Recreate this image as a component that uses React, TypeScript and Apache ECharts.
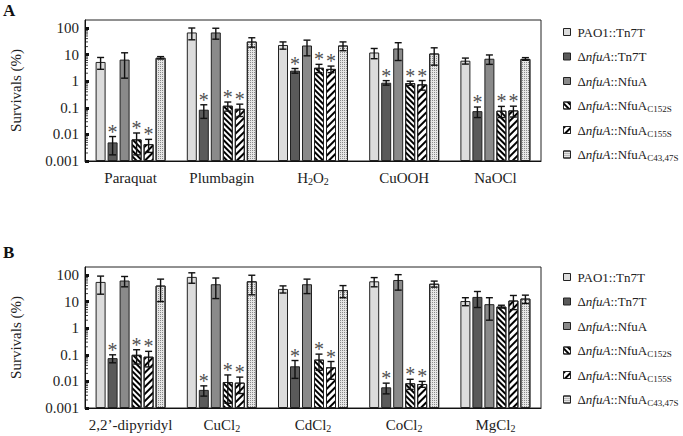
import React, { useEffect, useRef } from "react";
import * as echarts from "echarts";

// ---- Data ----
const SERIES_NAMES = [
  "PAO1::Tn7T",
  "ΔnfuA::Tn7T",
  "ΔnfuA::NfuA",
  "ΔnfuA::NfuA C152S",
  "ΔnfuA::NfuA C155S",
  "ΔnfuA::NfuA C43,47S",
];
const LEGEND_RICH_LABELS = [
  "PAO1::Tn7T",
  "Δ{i|nfuA}::Tn7T",
  "Δ{i|nfuA}::NfuA",
  "Δ{i|nfuA}::NfuA{s|C152S}",
  "Δ{i|nfuA}::NfuA{s|C155S}",
  "Δ{i|nfuA}::NfuA{s|C43,47S}",
];

const CATS_A = ["Paraquat", "Plumbagin", "H2O2", "CuOOH", "NaOCl"];
const CATS_A_RICH = ["Paraquat", "Plumbagin", "H{s|2}O{s|2}", "CuOOH", "NaOCl"];
const CATS_B = ["2,2'-dipyridyl", "CuCl2", "CdCl2", "CoCl2", "MgCl2"];
const CATS_B_RICH = ["2,2’-dipyridyl", "CuCl{s|2}", "CdCl{s|2}", "CoCl{s|2}", "MgCl{s|2}"];

// Panel A values (survival %) and error (SD)
const A_PAO1 = [5.3, 68, 23, 12, 5.9];
const A_PAO1_ERR = [2.5, 32, 7, 5, 1.5];
const A_TN7T = [0.005, 0.085, 2.5, 0.88, 0.075];
const A_TN7T_ERR = [0.0033, 0.045, 0.5, 0.17, 0.032];
const A_NFUA = [6.5, 68, 22, 17, 7];
const A_NFUA_ERR = [5.2, 30, 13, 11, 2.7];
const A_C152S = [0.0065, 0.12, 3.2, 0.85, 0.078];
const A_C152S_ERR = [0.0048, 0.045, 1.1, 0.15, 0.035];
const A_C155S = [0.0043, 0.092, 2.9, 0.76, 0.08];
const A_C155S_ERR = [0.0022, 0.045, 0.8, 0.3, 0.035];
const A_C4347S = [7.6, 31, 22, 11, 6.9];
const A_C4347S_ERR = [0.8, 12, 8, 7, 0.8];

// Panel B values (survival %) and error (SD)
const B_PAO1 = [55, 85, 30, 58, 10.5];
const B_PAO1_ERR = [36, 36, 9, 22, 3.5];
const B_TN7T = [0.075, 0.0048, 0.037, 0.006, 15];
const B_TN7T_ERR = [0.025, 0.002, 0.024, 0.0026, 9];
const B_NFUA = [62, 45, 45, 65, 8];
const B_NFUA_ERR = [26, 32, 25, 38, 6];
const B_C152S = [0.1, 0.0095, 0.066, 0.0085, 6.5];
const B_C152S_ERR = [0.055, 0.008, 0.04, 0.0035, 0.8];
const B_C155S = [0.085, 0.009, 0.034, 0.008, 11];
const B_C155S_ERR = [0.05, 0.0055, 0.022, 0.002, 6];
const B_C4347S = [40, 58, 27, 47, 13];
const B_C4347S_ERR = [30, 40, 13, 12, 4.5];

// Significance marks: which strains and which categories carry "*"
const STAR_SERIES = [false, true, false, true, true, false];
const STAR_CATS_A = [true, true, true, true, true];
const STAR_CATS_B = [true, true, true, true, false];

// Y-axis (log) range and minor tick positions
const Y_MIN = 0.001;
const Y_MAX = 200;
const MINOR_MANTISSAS = [2, 3, 4, 5, 6, 7, 8, 9];
const MINOR_DECADES = [0.001, 0.01, 0.1, 1, 10];

// ---- Styling ----
const FONT = "'Liberation Serif', 'Times New Roman', serif";
const BAR_W = 10;
const BAR_SPACING = 12;

const ITEM_STYLES: any[] = [
  { color: "#dcdcdc" },
  { color: "#5a5a5a" },
  { color: "#8a8a8a" },
  {
    color: "#ffffff",
    decal: {
      symbol: "rect",
      symbolSize: 1,
      color: "#000",
      dashArrayX: [1, 0],
      dashArrayY: [2, 2],
      rotation: Math.PI / 4,
    },
  },
  {
    color: "#ffffff",
    decal: {
      symbol: "rect",
      symbolSize: 1,
      color: "#000",
      dashArrayX: [1, 0],
      dashArrayY: [1.6, 2.2],
      rotation: -Math.PI / 4,
    },
  },
  {
    color: "#e6e6e6",
    decal: {
      symbol: "rect",
      symbolSize: 1,
      color: "#8a8a8a",
      dashArrayX: [1, 1],
      dashArrayY: [1, 1],
      rotation: 0,
    },
  },
];

function App() {
  const ref = useRef<HTMLDivElement>(null);

  useEffect(() => {
    if (!ref.current) return;
    document.body.style.margin = "0";
    const chart = echarts.init(ref.current, undefined, { renderer: "svg" });

    const valsA = [A_PAO1, A_TN7T, A_NFUA, A_C152S, A_C155S, A_C4347S];
    const errsA = [A_PAO1_ERR, A_TN7T_ERR, A_NFUA_ERR, A_C152S_ERR, A_C155S_ERR, A_C4347S_ERR];
    const valsB = [B_PAO1, B_TN7T, B_NFUA, B_C152S, B_C155S, B_C4347S];
    const errsB = [B_PAO1_ERR, B_TN7T_ERR, B_NFUA_ERR, B_C152S_ERR, B_C155S_ERR, B_C4347S_ERR];

    const subRich = {
      s: { fontSize: 10, fontFamily: FONT, color: "#222", lineHeight: 6, verticalAlign: "bottom" },
    };

    const makeXAxis = (gridIndex: number, cats: string[], rich: string[]) => ({
      type: "category",
      gridIndex,
      data: cats,
      axisTick: { show: false },
      axisLine: { lineStyle: { color: "#111", width: 1 } },
      axisLabel: {
        interval: 0,
        fontFamily: FONT,
        fontSize: 15,
        lineHeight: 16,
        color: "#222",
        margin: 9,
        formatter: (_v: string, idx: number) => rich[idx],
        rich: subRich,
      },
    });

    const fmtY = (v: number) => String(parseFloat(v.toPrecision(1)));

    const makeYAxis = (gridIndex: number) => ({
      type: "log",
      logBase: 10,
      gridIndex,
      min: Y_MIN,
      max: Y_MAX,
      startValue: Y_MIN,
      name: "Survivals (%)",
      nameLocation: "middle",
      nameGap: 62,
      nameTextStyle: { fontFamily: FONT, fontSize: 15, color: "#222" },
      axisLine: { show: true, lineStyle: { color: "#111", width: 1 } },
      axisTick: { show: true, inside: true, length: 4, lineStyle: { color: "#111", width: 3 } },
      splitLine: { show: false },
      axisLabel: {
        fontFamily: FONT,
        fontSize: 15,
        color: "#222",
        margin: 6,
        showMaxLabel: false,
        formatter: (v: number) => fmtY(v),
      },
    });

    const barSeries = (gi: number, vals: number[][]) =>
      SERIES_NAMES.map((name, i) => ({
        type: "bar",
        name,
        xAxisIndex: gi,
        yAxisIndex: gi,
        data: vals[i],
        barWidth: BAR_W,
        barGap: "20%",
        itemStyle: { ...ITEM_STYLES[i], borderColor: "#222", borderWidth: 1 },
        emphasis: { disabled: true },
      }));

    const errData = (vals: number[][], errs: number[][], starCats: boolean[]) => {
      const out: number[][] = [];
      vals.forEach((arr, s) =>
        arr.forEach((v, c) => {
          out.push([c, v, s, errs[s][c], STAR_SERIES[s] && starCats[c] ? 1 : 0]);
        })
      );
      return out;
    };

    const errSeries = (gi: number, data: number[][]) => ({
      type: "custom",
      xAxisIndex: gi,
      yAxisIndex: gi,
      data,
      encode: { x: 0, y: 1 },
      z: 5,
      silent: true,
      itemStyle: { color: "#555" },
      renderItem: (_params: any, api: any) => {
        const c = api.value(0);
        const v = api.value(1);
        const s = api.value(2);
        const e = api.value(3);
        const star = api.value(4);
        const hi = v + e;
        const lo = Math.max(v - e, Y_MIN * 1.02);
        const center = api.coord([c, v]);
        const x = center[0] + (s - 2.5) * BAR_SPACING;
        const yHi = api.coord([c, hi])[1];
        const yLo = api.coord([c, lo])[1];
        const ls = { stroke: "#111", lineWidth: 1.4 };
        const children: any[] = [
          { type: "line", shape: { x1: x, y1: yHi, x2: x, y2: yLo }, style: ls },
          { type: "line", shape: { x1: x - 3.5, y1: yHi, x2: x + 3.5, y2: yHi }, style: ls },
          { type: "line", shape: { x1: x - 3.5, y1: yLo, x2: x + 3.5, y2: yLo }, style: ls },
        ];
        if (star) {
          children.push({
            type: "text",
            style: {
              text: "*",
              x,
              y: yHi - 5,
              align: "center",
              verticalAlign: "middle",
              fontSize: 20,
              fontFamily: FONT,
              fill: "#505050",
            },
          });
        }
        return { type: "group", children };
      },
    });

    const minorData: number[][] = [];
    MINOR_DECADES.forEach((d) => MINOR_MANTISSAS.forEach((m) => minorData.push([0, m * d])));

    const minorSeries = (gi: number) => ({
      type: "custom",
      xAxisIndex: gi,
      yAxisIndex: gi,
      data: minorData,
      encode: { x: 0, y: 1 },
      silent: true,
      z: 6,
      renderItem: (params: any, api: any) => {
        const y = api.coord([0, api.value(1)])[1];
        const x0 = params.coordSys.x;
        return {
          type: "line",
          shape: { x1: x0, y1: y, x2: x0 + 3, y2: y },
          style: { stroke: "#111", lineWidth: 0.8 },
        };
      },
    });

    const makeLegend = (top: number) => ({
      orient: "vertical",
      left: 563,
      top,
      padding: 0,
      itemWidth: 7,
      itemHeight: 7,
      itemGap: 8.5,
      icon: "rect",
      selectedMode: false,
      data: SERIES_NAMES,
      itemStyle: { borderColor: "#222", borderWidth: 1 },
      textStyle: {
        fontFamily: FONT,
        fontSize: 13,
        color: "#222",
        lineHeight: 16,
        padding: [0, 0, 0, 2],
        rich: {
          i: { fontFamily: FONT, fontSize: 13, fontStyle: "italic", color: "#222", lineHeight: 16 },
          s: { fontFamily: FONT, fontSize: 9, color: "#222", lineHeight: 6, verticalAlign: "bottom" },
        },
      },
      formatter: (name: string) => LEGEND_RICH_LABELS[SERIES_NAMES.indexOf(name)],
    });

    const option: any = {
      animation: false,
      backgroundColor: "#ffffff",
      textStyle: { fontFamily: FONT },
      graphic: [
        { type: "text", left: 3, top: 2, style: { text: "A", fontFamily: FONT, fontSize: 17, fontWeight: "bold", fill: "#111" } },
        { type: "text", left: 3, top: 244, style: { text: "B", fontFamily: FONT, fontSize: 17, fontWeight: "bold", fill: "#111" } },
      ],
      legend: [makeLegend(24), makeLegend(269)],
      grid: [
        { left: 84, top: 20, width: 457, height: 141, show: true, borderColor: "#222", borderWidth: 1, backgroundColor: "transparent" },
        { left: 84, top: 267, width: 457, height: 141, show: true, borderColor: "#222", borderWidth: 1, backgroundColor: "transparent" },
      ],
      xAxis: [makeXAxis(0, CATS_A, CATS_A_RICH), makeXAxis(1, CATS_B, CATS_B_RICH)],
      yAxis: [makeYAxis(0), makeYAxis(1)],
      series: [
        ...barSeries(0, valsA),
        ...barSeries(1, valsB),
        errSeries(0, errData(valsA, errsA, STAR_CATS_A)),
        errSeries(1, errData(valsB, errsB, STAR_CATS_B)),
        minorSeries(0),
        minorSeries(1),
      ],
    };

    chart.setOption(option);
    return () => chart.dispose();
  }, []);

  return <div ref={ref} style={{ width: 683, height: 436 }} />;
}

export default App;
